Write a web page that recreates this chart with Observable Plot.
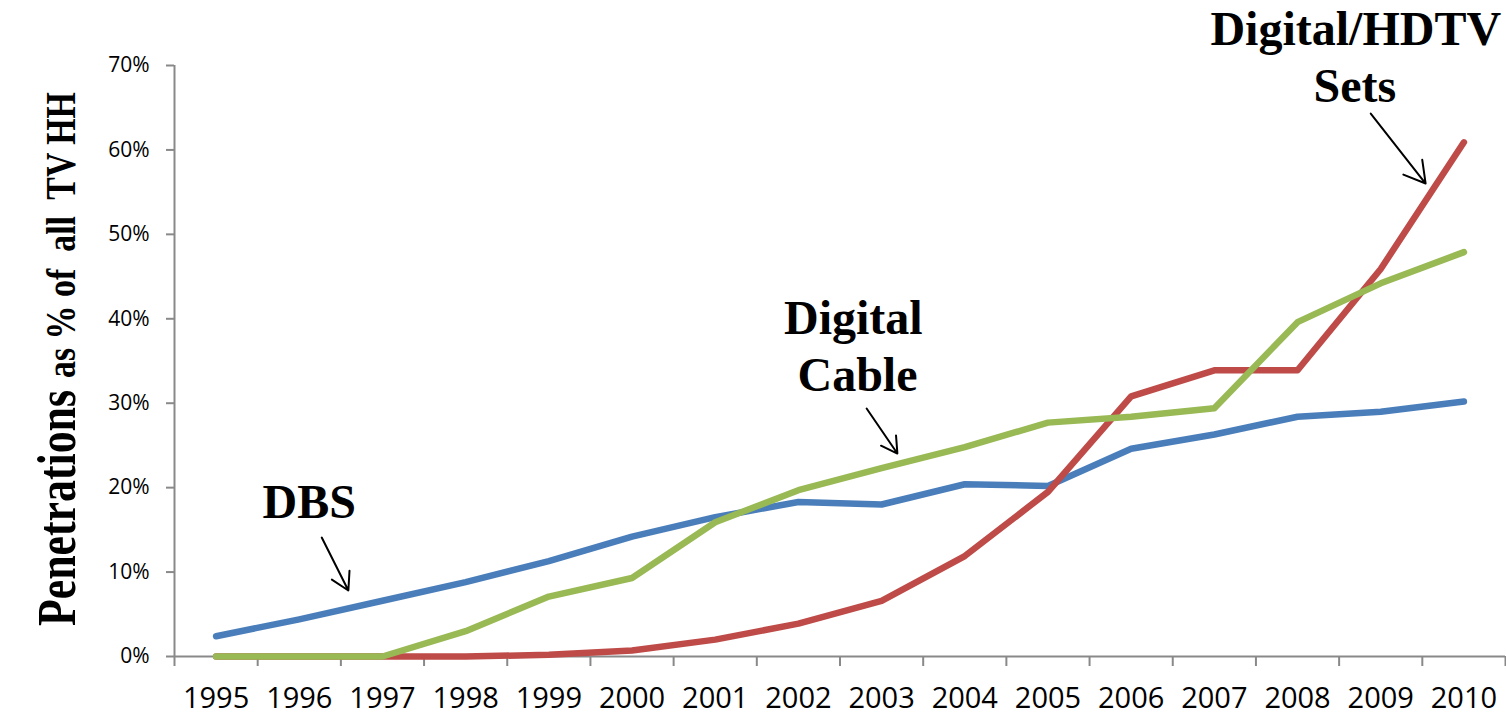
<!DOCTYPE html>
<html><head><meta charset="utf-8">
<script src="https://cdn.jsdelivr.net/npm/d3@7"></script>
<script src="https://cdn.jsdelivr.net/npm/@observablehq/plot@0.6"></script>
<style>html,body{margin:0;padding:0;background:#fff;}</style>
</head><body><div id="chart"></div>
<script>
// ---- data ----
const years = [1995,1996,1997,1998,1999,2000,2001,2002,2003,2004,2005,2006,2007,2008,2009,2010];
const dbs = [2.4,4.4,6.6,8.8,11.3,14.2,16.5,18.3,18.0,20.4,20.2,24.6,26.3,28.4,29.0,30.2];
const hdtvSets = [0,0,0,0,0.2,0.7,2.0,3.9,6.6,11.9,19.5,30.8,33.9,33.9,45.9,60.9];
const digitalCable = [0,0,0,3.0,7.1,9.3,15.9,19.7,22.3,24.8,27.7,28.4,29.4,39.6,44.2,47.9];
const seriesNames = ["DBS","Digital/HDTV Sets","Digital Cable"];
const seriesColors = ["#4A7EBB","#BE4B48","#98B954"];
const yTicks = [0,10,20,30,40,50,60,70];

// annotation labels (data coordinates)
const labelText = ["DBS","Digital","Cable","Digital/HDTV","Sets"];
const labelX = [1996.12,2002.66,2002.71,2008.70,2008.69];
const labelY = [16.46,38.14,31.50,72.37,65.62];
// annotation arrows (data coordinates)
const arrowX1 = [1996.27,2002.82,2008.88];
const arrowY1 = [14.09,29.37,64.31];
const arrowX2 = [1996.59,2003.19,2009.54];
const arrowY2 = [7.82,24.04,56.02];

// ---- build tables ----
const seriesValues = [dbs, hdtvSets, digitalCable];
const rows = [];
seriesNames.forEach((s, k) => years.forEach((yr, i) => rows.push({series: s, year: yr, value: seriesValues[k][i]})));
const labels = labelText.map((t, i) => ({text: t, x: labelX[i], y: labelY[i]}));
const arrows = arrowX1.map((_, i) => ({x1: arrowX1[i], y1: arrowY1[i], x2: arrowX2[i], y2: arrowY2[i]}));
const boundaries = years.map(y => y - 0.5).concat([years[years.length - 1] + 0.5]);
const axisGray = "#898989";

const chart = Plot.plot({
  width: 1506,
  height: 716,
  marginLeft: 174,
  marginRight: 1,
  marginTop: 65,
  marginBottom: 60,
  style: {fontFamily: "'Open Sans', sans-serif", background: "#fff", color: "#000", overflow: "visible"},
  x: {type: "linear", domain: [boundaries[0], boundaries[boundaries.length - 1]]},
  y: {domain: [0, 70]},
  color: {domain: seriesNames, range: seriesColors},
  marks: [
    Plot.axisY({ticks: yTicks, tickSize: 8, tickPadding: 17, tickFormat: d => d + "%", fontSize: 21, stroke: axisGray, strokeWidth: 2, fill: "#000", label: null}),
    Plot.axisX({ticks: boundaries, tickSize: 10, tickFormat: () => "", stroke: axisGray, strokeWidth: 2, label: null}),
    Plot.axisX({ticks: years, tickSize: 0, tickPadding: 31, tickFormat: d => String(d), fontSize: 29, fill: "#000", label: null}),
    Plot.ruleX([boundaries[0]], {y1: 0, y2: 70, stroke: axisGray, strokeWidth: 2}),
    Plot.ruleY([0], {stroke: axisGray, strokeWidth: 2}),
    Plot.line(rows, {x: "year", y: "value", z: "series", stroke: "series", strokeWidth: 6.5, strokeLinecap: "round", strokeLinejoin: "round"}),
    Plot.arrow(arrows, {x1: "x1", y1: "y1", x2: "x2", y2: "y2", stroke: "#000", strokeWidth: 2, headLength: 18}),
    Plot.text(labels, {x: "x", y: "y", text: "text", fontSize: 48, fontFamily: "'Liberation Serif', 'Times New Roman', serif", fontWeight: "bold", textAnchor: "middle", lineAnchor: "bottom", fill: "#000"})
  ]
});

// y-axis title with mixed sizes
const svg = d3.select(chart);
const g = svg.append("g").attr("font-family", "'Liberation Serif', 'Times New Roman', serif").attr("font-weight", "bold").attr("fill", "#000").attr("text-anchor", "start");
g.append("text").attr("text-anchor", "start").attr("transform", "translate(75,626) rotate(-90)").attr("font-size", 54)
  .attr("textLength", 236).attr("lengthAdjust", "spacingAndGlyphs").text("Penetrations");
g.append("text").attr("text-anchor", "start").attr("transform", "translate(75,378) rotate(-90)").attr("font-size", 42)
  .attr("textLength", 286).attr("lengthAdjust", "spacingAndGlyphs").style("white-space", "pre").text("as % of  all  TV HH");

document.getElementById("chart").appendChild(chart);
</script>
</body></html>
